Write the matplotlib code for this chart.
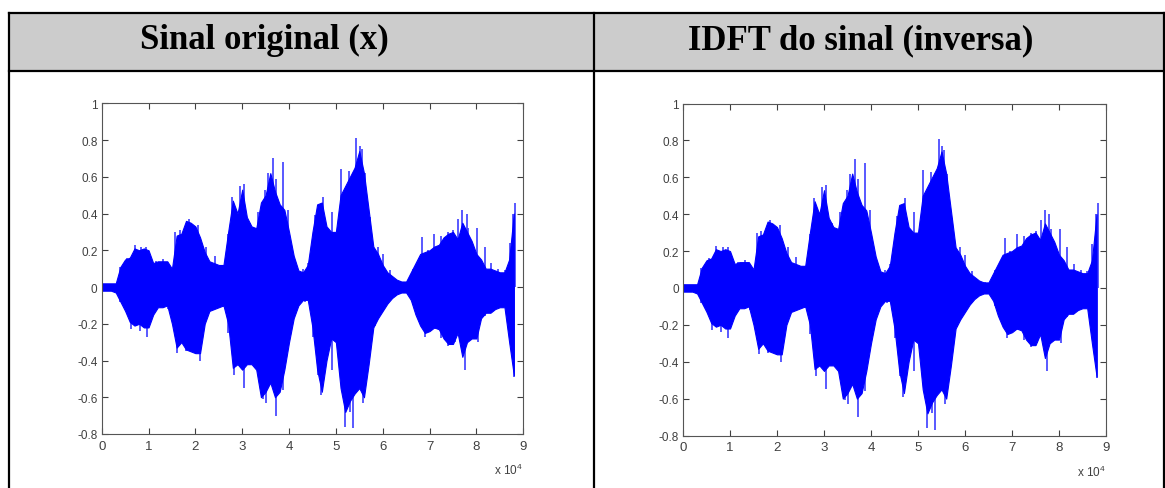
import numpy as np
import matplotlib.pyplot as plt
from matplotlib.patches import Rectangle

plt.rcParams['font.family'] = ['Liberation Sans', 'DejaVu Sans']
plt.rcParams['mathtext.fontset'] = 'custom'
plt.rcParams['mathtext.rm'] = 'Liberation Sans'

# envelope of the speech signal, one value every 1000 samples
amostras = np.arange(0, 89000, 1000)
env_sup = [0.02, 0.02, 0.02, 0.02, 0.11, 0.15, 0.16, 0.21, 0.20, 0.21,
           0.20, 0.13, 0.14, 0.14, 0.14, 0.10, 0.28, 0.29, 0.36, 0.35,
           0.33, 0.27, 0.19, 0.14, 0.13, 0.12, 0.12, 0.30, 0.47, 0.40,
           0.53, 0.38, 0.33, 0.32, 0.46, 0.50, 0.62, 0.52, 0.45, 0.42,
           0.30, 0.17, 0.09, 0.08, 0.12, 0.30, 0.45, 0.46, 0.33, 0.30,
           0.30, 0.50, 0.55, 0.60, 0.65, 0.74, 0.62, 0.42, 0.22, 0.18,
           0.12, 0.08, 0.06, 0.04, 0.03, 0.03, 0.08, 0.13, 0.18, 0.19,
           0.20, 0.22, 0.23, 0.27, 0.29, 0.30, 0.26, 0.35, 0.30, 0.25,
           0.18, 0.15, 0.10, 0.10, 0.09, 0.08, 0.08, 0.15, 0.40]
env_inf = [-0.02, -0.02, -0.02, -0.03, -0.08, -0.13, -0.19, -0.21, -0.20, -0.22,
           -0.22, -0.15, -0.11, -0.11, -0.10, -0.20, -0.33, -0.30, -0.34, -0.35,
           -0.36, -0.36, -0.20, -0.13, -0.12, -0.11, -0.10, -0.20, -0.44, -0.42,
           -0.45, -0.42, -0.42, -0.45, -0.60, -0.57, -0.52, -0.60, -0.57, -0.45,
           -0.30, -0.17, -0.10, -0.07, -0.07, -0.22, -0.45, -0.57, -0.40, -0.28,
           -0.30, -0.55, -0.68, -0.62, -0.58, -0.55, -0.60, -0.42, -0.22, -0.17,
           -0.13, -0.09, -0.06, -0.04, -0.03, -0.03, -0.07, -0.15, -0.21, -0.25,
           -0.24, -0.22, -0.23, -0.28, -0.31, -0.31, -0.25, -0.38, -0.30, -0.28,
           -0.28, -0.17, -0.14, -0.14, -0.12, -0.11, -0.11, -0.30, -0.48]

# individual peaks sticking out of the envelope
picos_pos_x = [3840, 5470, 7040, 8460, 9530, 11660, 13090, 15720, 16650, 18580,
               20560, 22340, 24130, 25900, 26970, 27890, 29470, 30390, 31600,
               33380, 34810, 35600, 36580, 37280, 38710, 39780, 41210, 42990,
               44050, 45480, 47260, 49250, 51170, 52810, 53660, 54370, 55090,
               55500, 56160, 57230, 59000, 60070, 61500, 64340, 66480, 68470,
               69680, 70960, 72520, 73950, 75020, 76080, 76940, 77900, 78220,
               80210, 81780, 83200, 84620, 86050, 87120, 87830, 88200]
picos_pos_y = [0.11, 0.16, 0.23, 0.22, 0.22, 0.14, 0.15, 0.30, 0.31, 0.37,
               0.34, 0.22, 0.17, 0.12, 0.29, 0.49, 0.55, 0.56, 0.35,
               0.41, 0.53, 0.62, 0.70, 0.59, 0.68, 0.42, 0.14, 0.10,
               0.13, 0.39, 0.49, 0.41, 0.64, 0.63, 0.62, 0.81, 0.77,
               0.75, 0.62, 0.38, 0.22, 0.18, 0.09, 0.03, 0.10, 0.27,
               0.20, 0.29, 0.28, 0.30, 0.31, 0.37, 0.42, 0.40, 0.32,
               0.32, 0.22, 0.13, 0.10, 0.09, 0.24, 0.40, 0.46]
picos_neg_x = [3840, 6190, 8110, 9670, 11660, 14160, 16080, 18070, 20920, 22340,
               25900, 26970, 28250, 30320, 31240, 32670, 34440, 35000, 35860,
               37280, 38710, 40140, 41560, 43340, 45120, 46190, 46900, 48330,
               49250, 50820, 51890, 53000, 53660, 54730, 55800, 57080, 58290,
               60070, 61500, 64340, 66480, 67900, 68970, 71110, 72520, 73950,
               75380, 76440, 77510, 78580, 80350, 81780, 83920, 86050, 87120,
               88040]
picos_neg_y = [-0.08, -0.23, -0.24, -0.27, -0.12, -0.12, -0.36, -0.35, -0.40, -0.17,
               -0.11, -0.25, -0.48, -0.55, -0.32, -0.39, -0.61, -0.63, -0.52,
               -0.70, -0.56, -0.23, -0.12, -0.08, -0.27, -0.48, -0.59, -0.25,
               -0.45, -0.45, -0.76, -0.68, -0.77, -0.56, -0.63, -0.37, -0.21,
               -0.13, -0.07, -0.03, -0.10, -0.19, -0.27, -0.23, -0.28, -0.32,
               -0.30, -0.21, -0.45, -0.25, -0.30, -0.16, -0.10, -0.10, -0.23,
               -0.49]

titulos = ['Sinal original (x)', 'IDFT do sinal (inversa)']
xticks = np.arange(0, 100000, 10000)
yticks = [-0.8, -0.6, -0.4, -0.2, 0, 0.2, 0.4, 0.6, 0.8, 1]
ylabels = ['-0.8', '-0.6', '-0.4', '-0.2', '0', '0.2', '0.4', '0.6', '0.8', '1']

W, H = 1165, 489
fig = plt.figure(figsize=(W / 100, H / 100), dpi=100)

# table frame drawn in pixel units
bg = fig.add_axes([0, 0, 1, 1])
bg.set_xlim(0, W)
bg.set_ylim(H, 0)
bg.axis('off')
bg.add_patch(Rectangle((8.5, 13.5), 1155, 58.5, facecolor='#cccccc', edgecolor='none'))
bg.plot([8.5, 1163.5], [13.5, 13.5], color='black', lw=1.6)
bg.plot([8.5, 1163.5], [72, 72], color='black', lw=1.6)
for xv in [8.5, 593.5, 1163.5]:
    bg.plot([xv, xv], [13.5, H], color='black', lw=1.6)
for xc, t in zip([264, 861], titulos):
    bg.text(xc, 49, t, ha='center', va='baseline', fontsize=25,
            fontweight='bold', family='Liberation Serif')

posicoes = [[101.7 / W, 54 / H, 421.5 / W, 330.7 / H],
            [683 / W, 52.5 / H, 423 / W, 332 / H]]

for pos in posicoes:
    ax = fig.add_axes(pos)
    # peaks first so the filled body covers their inner part
    ax.vlines(picos_pos_x, 0, picos_pos_y, color='#3c3cff', lw=1.2, zorder=1)
    ax.vlines(picos_neg_x, picos_neg_y, 0, color='#3c3cff', lw=1.2, zorder=1)
    ax.fill_between(amostras, env_inf, env_sup, color='#0000ff',
                    lw=0.8, edgecolor='#0000ff', zorder=2)
    ax.set_xlim(0, 90000)
    ax.set_ylim(-0.8, 1)
    ax.set_xticks(xticks)
    ax.set_xticklabels([str(int(v / 10000)) for v in xticks])
    ax.set_yticks(yticks)
    ax.set_yticklabels(ylabels)
    ax.tick_params(direction='in', length=4, width=0.8, top=True, right=True,
                   colors='#404040')
    ax.tick_params(axis='y', labelsize=8.5, pad=3)
    ax.tick_params(axis='x', labelsize=9.5, pad=4)
    for s in ax.spines.values():
        s.set_color('#555555')
        s.set_linewidth(0.8)
    ax.text(1.0, -0.121, r'x 10$^{4}$', transform=ax.transAxes, ha='right',
            va='baseline', fontsize=8.5, color='#404040')

fig.savefig('out.png', dpi=100)
